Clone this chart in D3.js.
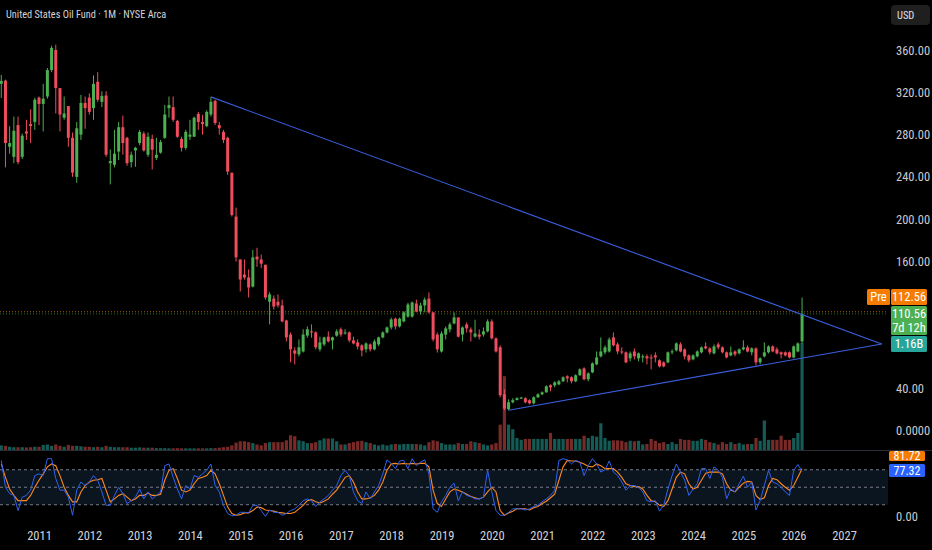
<!DOCTYPE html>
<html>
<head>
<meta charset="utf-8">
<script src="https://cdn.jsdelivr.net/npm/d3@7"></script>
<style>
  html, body { margin: 0; padding: 0; background: #000; }
  svg { display: block; }
</style>
</head>
<body>
<div id="chart"></div>
<script>
//CONFIG
const width = 932, height = 550;
const plotRight = 888;          // where the price scale starts
const fontFam = "'Liberation Sans Narrow', 'Roboto Condensed', Roboto, sans-serif";
const upColor = "#4caf50";
const downColor = "#ef4d5e";

// monthly bars, first one is Apr 2010, last one Mar 2026
const firstMonth = "2010-04";
const opens = [328,331,268.5,259,289,259,283,290,292,315,309,316,341,360,324,296,307,277,240,280,
  310,315,305,330,311,317,253,251.5,264,287,277,254,265,272,281,261,276,258,263,277,
  305,306,293,276,267.5,278,278,299.6,292,288,299,312,289,282.6,277,244,202.5,162,147.7,145,
  136.4,164.7,162,157,122,125,122,118.5,104.3,91,76,72.3,75,90,94,93,77,81.7,89,85.5,
  90,96,92,93,85.5,83.6,80.8,77,81.7,77,81.7,88.3,93,97.7,106,98.7,103.4,108,108,120.4,
  112.8,118.5,125,112,91,75,91,95.8,101.5,107.2,91,100.6,95.8,89,91,91,94,103.4,87.4,79,
  34.5,20.4,27,29,30.5,30.8,28.9,26,31.7,34.5,36.4,43,43,43.9,46.8,51.5,50.6,46.8,52.5,59,
  48.7,55.3,62.8,70.4,74.2,75,88.3,81.7,75,74.2,68.5,75,68.5,69.4,70.4,69.4,71.3,66.6,64.7,64.7,
  74.2,76,81.7,77,71.3,67.5,70.4,74.2,79.8,77.9,73.2,81.7,78.9,74.2,71.3,75,73.2,77,78.9,74.2,
  77.9,64.7,70.4,74.2,79.8,77,74.2,74.2,74.2,69.4,75,84.5];
const highs = [336.4,332,288,297,297,281,294,304,315,316,328,343,364,365,324,316,307,282,292,317.5,
  316,319,336,339,321,321,266,284.5,292,298,278,264,268.5,284.5,283,282,280,277,275,308,
  316,316,294,278,284.5,294,297,301.5,298.7,303,315.7,313,292,284.5,278,244,211,162,162,152.5,
  171,173,166.6,157,131,128,129,124,105,93,79,86.4,96,98.7,100.6,94,89,89,94,89,
  96,97.7,96,94,89,86.4,81.7,83.6,82.6,86.4,89,94,98.7,107,107,107,113,121,122.3,124,
  121,126,130.8,112,93,94,98.7,102.5,112,107.2,98.7,102.5,97.7,105,95.8,97.7,105.3,105.3,88.3,80.8,
  39.2,29.8,30.8,31.7,32,31.7,29.8,32.6,35.5,37.3,43,43.9,46.8,48,51.5,52.5,51.5,53.4,59,60,
  55.3,64.7,75,88.3,80.8,88.3,93,83.6,78.9,75,75,77.9,74,72.3,72.3,72.3,74.2,67.5,65.7,75,
  77,83.6,83.6,77.9,72.3,72.3,76,79.8,83.6,78.9,81.7,83.6,79.8,75,79.8,76,77.9,85.5,80.8,78.9,
  78.9,69.4,83.6,80.8,80.8,78.9,75,75,75,80.8,83.6,126];
const lows = [314.7,249,262,253,252,257,275,272,284.5,289,283,314,339,300,283,294,268.5,240,234.5,275,
  285.5,299,294,311,306,259,233,249,256,261,250.6,249,249.6,270,264,259,247,256,262,276,
  296,292,277,264,265.7,275,278,284.5,280,287,297,289,280,272,242,202.5,160,131.7,143,126,
  135.5,155,154,124,100.6,114.7,116.6,102.5,84.5,64.7,62.8,70.4,74,88,88,77,75,80,83.6,77,
  89,89,91,83.6,81.7,77,70.4,74,75,76,80,87.4,92,95.8,95.8,97.7,102.5,107,107,112,
  110,112,111,84.5,74,74,86.4,93,100.6,88.3,84.5,93,84.5,88,86.4,89,93,86.4,74,31.7,
  19.4,19.4,26,28.9,30,26,25,25,31,33.6,36,37.4,41.1,43,46,45.8,44.9,46,52,47.7,
  46.8,54.5,62,69.4,72.3,74,79.8,72.3,72.3,64,65.7,67.5,65.7,64.7,62.8,58.1,64.7,60,60,63.8,
  72.3,75,74.2,67.5,64.7,66.6,69.4,73.2,77,72.3,72.3,77,73.2,68.5,70.4,70.4,72.3,76,74.2,71.3,
  61.9,62.8,69.4,73.2,74.2,72.3,68.5,70.4,68.5,68.5,74.2,82.6];
const closes = [330.8,272,272,283.6,254,279,281,288,313,309,314,341,362,324,299,300,277,244,286,310,
  305,301.5,328,313,316.6,261,255,262,287,272,253,261,267.5,282.6,265,278,265.7,261,273,299,
  308,294,278,267.5,282.6,280,296,292,290,301.5,311,291,286,275,245,204,164,143,145,135.5,
  164,162,158,126,129,117.5,118.5,103.4,88.3,77,73,79,91,96,93,79,83.6,88.3,84.5,88.3,
  94,91,93,85.5,82.6,79.8,76,82.6,77,84.5,88.3,93,97.7,105.3,98.7,106,112,119.4,121.3,112.8,
  118.5,124,112,86.4,77,92,96.8,100.6,107.2,89,97.7,96.8,93,92,89,94,103.4,87.4,75,33.6,
  21,27,28.9,30.8,31.5,27,26,31.7,34.5,36.4,42.1,41.1,45.8,46.8,50.6,49.6,46.8,52.5,58.1,48.7,
  54.3,63.8,69.4,75,78.9,86.4,80.8,75,74.2,64.7,73.2,70.4,73.2,70.4,68.5,68.5,69.4,60.9,60.9,74.2,
  75.1,82.6,75,70.4,66.6,71.3,75,78.9,77.9,74.2,79.8,78.9,74.2,69.4,74.2,72.3,77,78.9,75,77.9,
  64.7,68.5,74.2,79.8,75,73.2,72.3,71.3,69.4,79.8,82.6,110.56];
// volume, millions of shares
const volumes = [50,45,35,30,30,30,28,30,35,35, 55,60,45,60,45,35,55,45,45,40,
  35,35,30,35,30,45,35,30,30,30, 30,25,25,28,25,25,25,20,20,20,
  18,18,20,18,18,18,18,18,18,18, 20,20,25,30,35,50,80,95,95,85,
  75,60,50,75,85,85,85,85,105,160, 150,105,95,75,75,85,105,125,125,125,
  95,60,60,75,85,95,100,85,75,60, 50,60,50,60,65,60,65,65,65,65,
  60,50,85,105,95,75,60,60,60,75, 65,65,95,85,75,60,50,60,75,275,
  800,275,225,130,110,120,120,120,120,120, 120,185,120,120,120,120,120,120,120,155,
  130,155,145,290,130,100,105,105,100,85, 100,95,100,60,65,120,100,75,85,65,
  85,65,120,110,110,100,100,120,110,85, 75,60,85,65,85,65,75,60,65,65,
  130,100,320,110,110,110,155,110,110,130, 185,1160];
// stoch RSI, blue K and orange D
const stochK = [96,50,39,36,10,33,36,45,70,73, 70,99,99,65,45,45,33,2,45,59,
  53,59,70,62,42,19,19,36,50,39, 22,27,33,47,30,42,30,36,42,87,
  90,67,47,30,53,47,70,67,73,79, 90,53,42,19,5,1,2,7,7,6,
  19,19,10,0,11,7,7,2,5,10, 13,19,27,30,27,17,25,30,36,45,
  53,70,79,70,42,27,22,42,30,42, 53,73,97,91,82,95,96,82,99,87,
  93,97,73,13,7,25,36,50,57,27, 42,36,
  34,30,30,33,79,42,10,2,2,7, 13,13,13,11,13,17,19,25,30,36,
  45,96,99,97,90,96,93,70,87,99, 90,76,80,95,76,70,59,45,53,53,
  50,42,27,25,27,9,19,47,70,90, 76,62,36,47,56,82,82,65,85,79,
  67,30,47,42,56,69,50,59,11,27, 53,79,59,56,50,42,36,79,89,77.32];
const stochD = [90,67,47,36,27,27,27,36,50,62, 73,85,90,87,70,50,36,25,25,42,
  53,59,62,63,65,45,25,30,36,39, 33,27,30,36,36,40,36,36,38,62,
  79,82,65,45,42,45,56,65,67,70, 79,73,56,36,16,5,2,3,6,6,
  10,16,15,11,10,9,7,6,5,5, 7,13,19,27,29,25,23,26,30,38,
  45,56,67,70,59,42,30,30,32,36, 45,59,79,90,91,90,91,90,91,90,
  91,91,85,45,22,17,30,42,47,45, 42,38,
  34,32,30,33,42,50,42,10,2,6, 9,13,13,13,11,15,17,22,26,32,
  38,62,85,96,95,95,93,90,86,85, 90,87,82,82,82,76,67,56,53,51,
  51,47,36,27,25,19,17,27,47,67, 76,73,56,47,50,62,74,76,76,76,
  73,56,45,42,50,57,60,59,36,29, 32,53,65,63,56,50,45,53,67,81.72];

const yearLabels = ["2011","2012","2013","2014","2015","2016","2017","2018","2019",
  "2020","2021","2022","2023","2024","2025","2026","2027"];
const priceTicks = [360, 320, 280, 240, 200, 160, 40];   // 120 and 80 sit under the last-price tags
const stochLevels = [80, 50, 20];
// triangle lines, [month, price]
const upperLine = [["2014-06", 315.7], ["2027-10", 82.1]];
const lowerLine = [["2020-05", 19.4], ["2027-10", 82.1]];
const lastPrice = 110.56, prePrice = 112.56;

// month string -> bar index (index 0 = firstMonth)
function monthIndex(s) {
  const [y0, m0] = firstMonth.split("-").map(Number);
  const [y, m] = s.split("-").map(Number);
  return (y - y0) * 12 + (m - m0);
}

const bars = opens.map((o, i) => ({
  i: i, o: o, h: highs[i], l: lows[i], c: closes[i], v: volumes[i]
}));

// scales. bar spacing is uniform like on the trading platform
const x = d3.scaleLinear().domain([monthIndex("2011-01"), monthIndex("2027-01")]).range([39, 844]);
const y = d3.scaleLinear().domain([40, 360]).range([388.5, 50]);
const yVol = d3.scaleLinear().domain([0, 1160]).range([450, 343]);
const yStoch = d3.scaleLinear().domain([0, 100]).range([516.4, 458.1]);

const svg = d3.select("#chart").append("svg")
  .attr("width", width)
  .attr("height", height)
  .style("background", "#000")
  .style("font-family", fontFam);

// --- volume first so candles draw over it
svg.append("g").selectAll("rect")
  .data(bars)
  .join("rect")
  .attr("x", d => x(d.i) - 1.6)
  .attr("width", 3.2)
  .attr("y", d => yVol(d.v))
  .attr("height", d => yVol(0) - yVol(d.v))
  .attr("fill", d => d.c >= d.o ? "rgba(38,166,154,0.55)" : "rgba(239,83,80,0.5)");

// last price + premarket dotted lines
svg.append("g").selectAll("line")
  .data([{p: prePrice, col: "#ff9800"}, {p: lastPrice, col: "#4caf50"}])
  .join("line")
  .attr("x1", 0).attr("x2", plotRight)
  .attr("y1", d => y(d.p)).attr("y2", d => y(d.p))
  .attr("stroke", d => d.col)
  .attr("stroke-opacity", 0.6)
  .attr("stroke-dasharray", "1,2");

// candles
const candle = svg.append("g");
candle.selectAll("line")
  .data(bars)
  .join("line")
  .attr("x1", d => x(d.i)).attr("x2", d => x(d.i))
  .attr("y1", d => y(d.h)).attr("y2", d => y(d.l))
  .attr("stroke", d => d.c >= d.o ? upColor : downColor)
  .attr("stroke-width", 1);
candle.selectAll("rect")
  .data(bars)
  .join("rect")
  .attr("x", d => x(d.i) - 1.5)
  .attr("width", 3)
  .attr("y", d => y(Math.max(d.o, d.c)))
  .attr("height", d => Math.max(1, Math.abs(y(d.o) - y(d.c))))
  .attr("fill", d => d.c >= d.o ? upColor : downColor);

// triangle
const trend = d3.line().x(d => x(monthIndex(d[0]))).y(d => y(d[1]));
svg.append("g").selectAll("path")
  .data([upperLine, lowerLine])
  .join("path")
  .attr("d", trend)
  .attr("fill", "none")
  .attr("stroke", "#3a5fe0")
  .attr("stroke-width", 1.1);

// pane separator
svg.append("line")
  .attr("x1", 0).attr("x2", width)
  .attr("y1", 450.5).attr("y2", 450.5)
  .attr("stroke", "#2a2e39");

// --- stoch rsi pane
svg.append("rect")
  .attr("x", 0).attr("width", plotRight)
  .attr("y", yStoch(80)).attr("height", yStoch(20) - yStoch(80))
  .attr("fill", "#0b1520");
svg.append("g").selectAll("line")
  .data(stochLevels)
  .join("line")
  .attr("x1", 0).attr("x2", plotRight)
  .attr("y1", d => yStoch(d)).attr("y2", d => yStoch(d))
  .attr("stroke", "#787b86")
  .attr("stroke-dasharray", "3,3");

const stochLine = d3.line().x((d, i) => x(i)).y(d => yStoch(d));
svg.append("path").datum(stochD)
  .attr("d", stochLine)
  .attr("fill", "none").attr("stroke", "#ff8a1e").attr("stroke-width", 1.1);
svg.append("path").datum(stochK)
  .attr("d", stochLine)
  .attr("fill", "none").attr("stroke", "#2e62f0").attr("stroke-width", 1);

// --- time axis
const xAxis = d3.axisBottom(x)
  .tickValues(yearLabels.map(yr => monthIndex(yr + "-01")))
  .tickFormat((d, i) => yearLabels[i])
  .tickSize(0);
const gx = svg.append("g").attr("transform", "translate(0,528)").call(xAxis);
gx.select(".domain").remove();
gx.selectAll("text")
  .attr("fill", "#d1d4dc")
  .style("font-size", "12.5px")
  .style("font-family", fontFam);

// --- price scale
const yAxis = d3.axisRight(y).tickValues(priceTicks).tickFormat(d3.format(".2f")).tickSize(0);
const gy = svg.append("g").attr("transform", "translate(" + (plotRight + 8) + ",0)").call(yAxis);
gy.select(".domain").remove();
gy.selectAll("text")
  .attr("x", 0)
  .attr("fill", "#c8cad0")
  .style("font-size", "12.5px")
  .style("font-family", fontFam);

// volume and stoch zero labels
svg.append("text").attr("x", 896).attr("y", yVol(0) - 19).attr("dy", "0.35em")
  .attr("fill", "#c8cad0").style("font-size", "12.5px").text(d3.format(".4f")(0));
svg.append("text").attr("x", 896).attr("y", yStoch(0) + 0.5).attr("dy", "0.35em")
  .attr("fill", "#c8cad0").style("font-size", "12.5px").text(d3.format(".2f")(0));

// USD button
svg.append("rect").attr("x", 891).attr("y", 5).attr("width", 39).attr("height", 20)
  .attr("rx", 4).attr("fill", "#1f1f1f");
svg.append("text").attr("x", 897).attr("y", 15).attr("dy", "0.35em")
  .attr("fill", "#e0e3eb").style("font-size", "10.5px").text("USD");

// title
svg.append("text").attr("x", 6).attr("y", 14).attr("dy", "0.35em")
  .attr("fill", "#d1d4dc").style("font-size", "10.3px")
  .text("United States Oil Fund \u00b7 1M \u00b7 NYSE Arca");

// price tags on the right. boxes are stacked so they dont overlap
function tag(x0, y0, w, h, fill, lines) {
  svg.append("rect").attr("x", x0).attr("y", y0).attr("width", w).attr("height", h)
    .attr("rx", 1.5).attr("fill", fill);
  lines.forEach((t, k) => {
    svg.append("text").attr("x", x0 + w / 2).attr("y", y0 + 8 + k * 14).attr("dy", "0.35em")
      .attr("text-anchor", "middle").attr("fill", "#fff").style("font-size", "12.5px").text(t);
  });
}
tag(867, 289, 23, 16, "#f57c00", ["Pre"]);
tag(891, 289, 36, 16, "#f57c00", [d3.format(".2f")(prePrice)]);
tag(891, 306, 36, 29, "#4caf50", [d3.format(".2f")(lastPrice), "7d 12h"]);
tag(891, 336, 36, 16, "#26a69a", [d3.format(".3s")(volumes[volumes.length - 1] * 1e6).replace("G", "B")]);

// stoch value tags
tag(889, 451, 36, 10, "#f57c00", []);
svg.append("text").attr("x", 907).attr("y", 455.5).attr("dy", "0.35em").attr("text-anchor", "middle")
  .attr("fill", "#fff").style("font-size", "12px").text(d3.format(".2f")(stochD[stochD.length - 1]));
tag(889, 464, 36, 13, "#2962ff", []);
svg.append("text").attr("x", 907).attr("y", 470.5).attr("dy", "0.35em").attr("text-anchor", "middle")
  .attr("fill", "#fff").style("font-size", "12px").text(d3.format(".2f")(stochK[stochK.length - 1]));
</script>
</body>
</html>
